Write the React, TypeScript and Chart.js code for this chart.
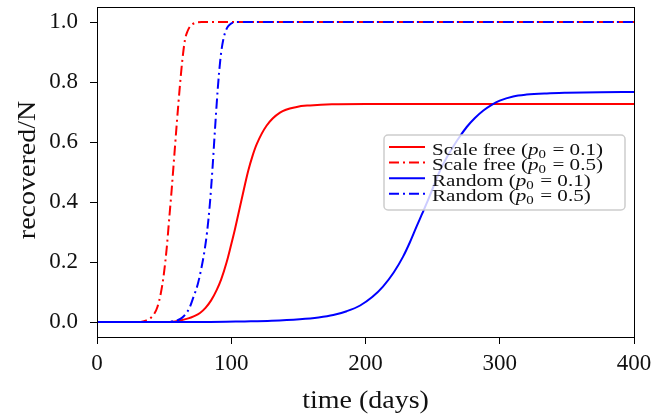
import React, { useEffect, useRef } from "react";
import { Chart, registerables } from "chart.js";

Chart.register(...registerables);

// ---- data (days, recovered fraction) ----
const sfP01Days = [0, 50, 58, 62, 68, 72, 76.7, 81, 85, 89.2, 92.5, 96.6, 99.5, 102.8, 105.3, 107.8, 110.3, 112.7, 115.8, 118.9, 126.4, 136.3, 148.8, 158.7, 175, 200, 400];
const sfP01Vals = [0, 0, 0.002, 0.005, 0.012, 0.019, 0.03, 0.048, 0.072, 0.107, 0.142, 0.2, 0.25, 0.31, 0.36, 0.41, 0.46, 0.505, 0.553, 0.592, 0.655, 0.698, 0.717, 0.722, 0.726, 0.727, 0.727];

const sfP05Days = [0, 30, 35, 39.5, 42.5, 45, 47.5, 49.5, 51.9, 53.8, 55.6, 57.5, 59.4, 61.8, 63.5, 65.5, 67.5, 69.3, 73, 78, 400];
const sfP05Vals = [0, 0, 0.003, 0.012, 0.026, 0.05, 0.095, 0.15, 0.245, 0.345, 0.44, 0.55, 0.66, 0.79, 0.87, 0.94, 0.97, 0.985, 0.997, 1.0, 1.0];

const rP01Days = [0, 80, 110, 130, 151, 165, 176, 186, 196, 205, 213, 221, 228, 233, 238, 241.8, 245.6, 250.5, 255.5, 260.5, 265.5, 270.5, 275.4, 281.5, 287.8, 294, 300, 310, 320, 335, 350, 375, 400];
const rP01Vals = [0, 0, 0.002, 0.004, 0.009, 0.015, 0.023, 0.036, 0.055, 0.083, 0.118, 0.165, 0.218, 0.265, 0.318, 0.357, 0.396, 0.45, 0.505, 0.548, 0.586, 0.62, 0.65, 0.68, 0.705, 0.724, 0.738, 0.752, 0.758, 0.762, 0.764, 0.766, 0.767];

const rP05Days = [0, 50, 56, 60, 63, 66, 69, 72, 75, 78, 80, 82, 84, 86, 88, 90, 92, 94, 96.6, 99, 104, 400];
const rP05Vals = [0, 0, 0.002, 0.006, 0.013, 0.026, 0.048, 0.085, 0.125, 0.185, 0.235, 0.3, 0.39, 0.51, 0.65, 0.78, 0.88, 0.94, 0.978, 0.992, 1.0, 1.0];

const seriesNames = ["Scale free", "Scale free", "Random", "Random"];
const seriesP0 = ["0.1", "0.5", "0.1", "0.5"];
const seriesColors = ["#ff0000", "#ff0000", "#0000ff", "#0000ff"];
const seriesDashed = [false, true, false, true];

const xTicks = [0, 100, 200, 300, 400];
const yTicks = [0, 0.2, 0.4, 0.6, 0.8, 1.0];
const xTitle = "time (days)";
const yTitle = "recovered/N";

const FONT = '"Liberation Serif", serif';
const TEXT = "#111";
const DASH = [10, 4, 2, 4];

const pts = (d: number[], v: number[]) => d.map((x, i) => ({ x, y: v[i] }));

function stretchedText(ctx: any, text: string, x: number, y: number, font: string, sx: number, rot = 0) {
  ctx.save();
  ctx.translate(x, y);
  if (rot) ctx.rotate(rot);
  ctx.scale(sx, 1);
  ctx.font = font;
  ctx.textAlign = "center";
  ctx.textBaseline = "middle";
  ctx.fillStyle = TEXT;
  ctx.fillText(text, 0, 0);
  ctx.restore();
}

const frameLegendPlugin = {
  id: "frameLegend",
  afterDraw(chart: any) {
    const ctx = chart.ctx;
    const a = chart.chartArea;
    ctx.save();
    // full box spines
    ctx.strokeStyle = "#000";
    ctx.lineWidth = 1;
    ctx.strokeRect(Math.round(a.left) + 0.5, Math.round(a.top) + 0.5, Math.round(a.right - a.left), Math.round(a.bottom - a.top));

    // axis titles
    stretchedText(ctx, xTitle, (a.left + a.right) / 2, 401, `25px ${FONT}`, 1.12);
    stretchedText(ctx, yTitle, 28, (a.top + a.bottom) / 2 - 2, `25px ${FONT}`, 1.12, -Math.PI / 2);

    // legend
    const bx = 384, by = 135, bw = 241, bh = 75, r = 4;
    ctx.beginPath();
    ctx.moveTo(bx + r, by);
    ctx.arcTo(bx + bw, by, bx + bw, by + bh, r);
    ctx.arcTo(bx + bw, by + bh, bx, by + bh, r);
    ctx.arcTo(bx, by + bh, bx, by, r);
    ctx.arcTo(bx, by, bx + bw, by, r);
    ctx.closePath();
    ctx.fillStyle = "rgba(255,255,255,0.8)";
    ctx.fill();
    ctx.strokeStyle = "rgba(200,200,200,0.9)";
    ctx.lineWidth = 1.5;
    ctx.stroke();
    const size = 17;
    const sx = 1.24;
    for (let i = 0; i < seriesNames.length; i++) {
      const cy = 147 + i * 15.6;
      ctx.beginPath();
      ctx.strokeStyle = seriesColors[i];
      ctx.lineWidth = 2;
      ctx.setLineDash(seriesDashed[i] ? DASH : []);
      ctx.moveTo(389, cy);
      ctx.lineTo(425, cy);
      ctx.stroke();
      ctx.setLineDash([]);
      ctx.save();
      ctx.translate(432, cy + 7.5);
      ctx.scale(sx, 1);
      ctx.fillStyle = TEXT;
      ctx.textBaseline = "alphabetic";
      ctx.textAlign = "left";
      let x = 0;
      ctx.font = `${size}px ${FONT}`;
      let s = seriesNames[i] + " (";
      ctx.fillText(s, x, 0);
      x += ctx.measureText(s).width;
      ctx.font = `italic ${size}px ${FONT}`;
      ctx.fillText("p", x, 0);
      x += ctx.measureText("p").width;
      ctx.font = `${Math.round(size * 0.7)}px ${FONT}`;
      ctx.fillText("0", x, 3);
      x += ctx.measureText("0").width;
      ctx.font = `${size}px ${FONT}`;
      s = " = " + seriesP0[i] + ")";
      ctx.fillText(s, x + 1, 0);
      ctx.restore();
    }
    ctx.restore();
  },
};

export default function App() {
  const ref = useRef<HTMLCanvasElement>(null);
  useEffect(() => {
    const mk = (i: number, d: number[], v: number[], order: number) => ({
      label: seriesNames[i] + " (p0 = " + seriesP0[i] + ")",
      data: pts(d, v),
      borderColor: seriesColors[i],
      backgroundColor: seriesColors[i],
      borderWidth: 2,
      borderDash: seriesDashed[i] ? DASH : [],
      pointRadius: 0,
      fill: false,
      cubicInterpolationMode: "monotone" as const,
      order,
    });
    const chart = new Chart(ref.current!, {
      type: "line",
      data: {
        datasets: [
          mk(0, sfP01Days, sfP01Vals, 4),
          mk(1, sfP05Days, sfP05Vals, 3),
          mk(2, rP01Days, rP01Vals, 2),
          mk(3, rP05Days, rP05Vals, 1),
        ],
      },
      options: {
        animation: false,
        responsive: false,
        devicePixelRatio: 1,
        layout: { padding: { left: 0, top: 7, right: 31, bottom: 0 } },
        plugins: { legend: { display: false }, tooltip: { enabled: false } },
        scales: {
          x: {
            type: "linear",
            min: 0,
            max: 400,
            afterBuildTicks: (s: any) => { s.ticks = xTicks.map((value) => ({ value })); },
            afterFit: (s: any) => { s.height = 78; s.paddingLeft = 0; s.paddingRight = 0; },
            grid: { drawOnChartArea: false, tickLength: 7, color: "#000", tickWidth: 1 },
            border: { color: "#000", width: 1 },
            ticks: { color: TEXT, font: { family: FONT, size: 23 }, padding: 6, maxRotation: 0 },
          },
          y: {
            type: "linear",
            min: -0.05,
            max: 1.05,
            afterBuildTicks: (s: any) => { s.ticks = yTicks.map((value) => ({ value })); },
            afterFit: (s: any) => { s.width = 97; s.paddingTop = 0; s.paddingBottom = 0; },
            grid: { drawOnChartArea: false, tickLength: 7, color: "#000", tickWidth: 1 },
            border: { color: "#000", width: 1 },
            ticks: { color: TEXT, font: { family: FONT, size: 23 }, padding: 12, callback: (v: any) => Number(v).toFixed(1) },
          },
        },
      },
      plugins: [frameLegendPlugin],
    });
    return () => chart.destroy();
  }, []);
  return (
    <div style={{ position: "fixed", left: 0, top: 0, width: 665, height: 415, background: "#fff" }}>
      <canvas ref={ref} width={665} height={415} style={{ width: 665, height: 415, display: "block" }} />
    </div>
  );
}
